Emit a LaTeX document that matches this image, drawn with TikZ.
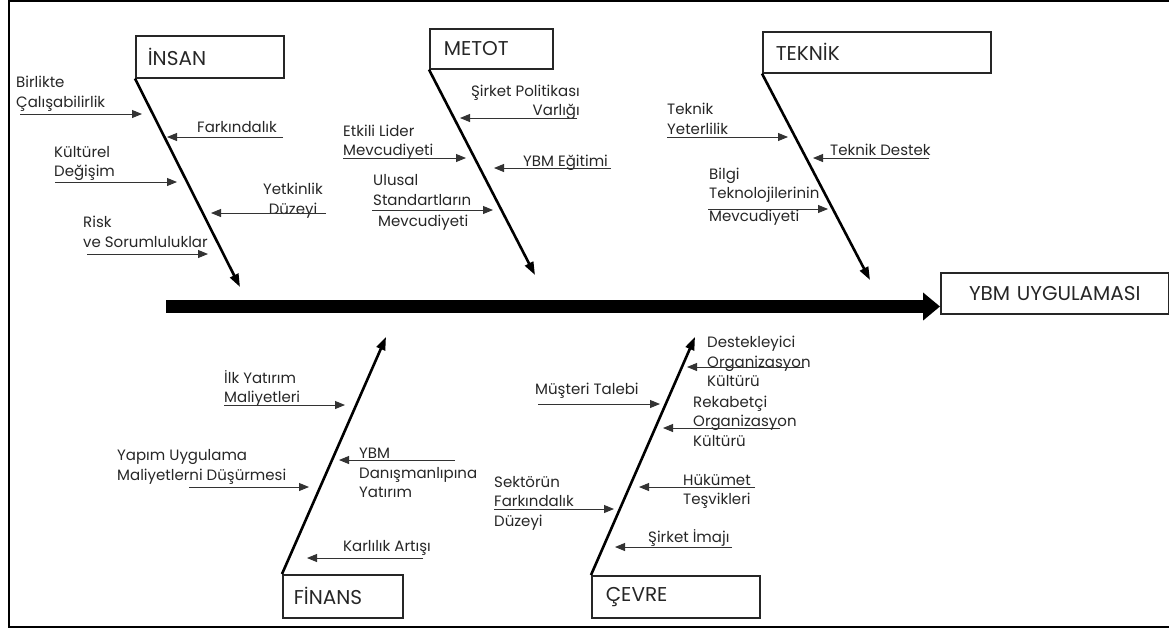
\documentclass[tikz,border=0pt]{standalone}
\usepackage{fontspec}
\setmainfont{Poppins}
\usetikzlibrary{arrows.meta}
\newcommand\causearrow[3]{%
  \coordinate (#1s) at #2;
  \coordinate (#1e) at #3;
  \draw[cause] (#1s) -- (#1e);}
\begin{document}
\begin{tikzpicture}[x=1pt,y=-1pt,
  lbl/.style={inner sep=0pt, font=\fontsize{15}{19.5}\selectfont, text=black!85, align=left},
  catbox/.style={draw=black!85, line width=1.6pt, anchor=north west, inner xsep=12pt, inner ysep=0pt,
     font=\fontsize{20}{22}\selectfont, text=black!85, align=left},
  spine/.style={line width=2.6pt, -{Triangle[width=9pt,length=13pt]}},
  cause/.style={draw=black!80, line width=0.9pt, -{Triangle[width=8pt,length=10pt]}},
  mainbar/.style={line width=13pt, -{Triangle[width=27pt,length=17pt]}}]
\useasboundingbox (0,0) rectangle (1169,630);
% frame
\draw[line width=2.2pt] (1169,1) -- (9,1) -- (9,627) -- (1169,627);
% category boxes
\node[catbox, text width=124pt, minimum height=42pt] (insan) at (135,35) {İNSAN};
\node[catbox, inner xsep=14pt, text width=95pt, minimum height=40pt] (metot) at (429,28) {METOT};
\node[catbox, inner xsep=13pt, text width=202pt, minimum height=41pt] (teknik) at (762,31) {TEKNİK};
\node[catbox, align=center, text width=204pt, minimum height=41pt] (ybm) at (940,272) {YBM UYGULAMASI};
\node[catbox, inner xsep=11pt, text width=98pt, minimum height=43pt] (finans) at (282,574) {FİNANS};
\node[catbox, inner xsep=14pt, text width=140pt, minimum height=42pt] (cevre) at (591,575) {ÇEVRE};
% main spine
\coordinate (tail) at (166,306.5);
\draw[mainbar] (tail) -- (tail -| ybm.west);
% category spines
\coordinate (insanTip) at (240,287);
\coordinate (metotTip) at (535,275);
\coordinate (teknikTip) at (870,280);
\coordinate (finansTip) at (386,337);
\coordinate (cevreTip) at (695,337);
\draw[spine] (insan.south west) -- (insanTip);
\draw[spine] (metot.south west) -- (metotTip);
\draw[spine] (teknik.south west) -- (teknikTip);
\draw[spine] (finans.north west) -- (finansTip);
\draw[spine] (cevre.north west) -- (cevreTip);
% INSAN labels
\node[lbl, anchor=west] (l1) at (16,93.5) {Birlikte\\Çalışabilirlik};
\node[lbl, anchor=west] (l2) at (197,127) {Farkındalık};
\node[lbl, anchor=west] (l3) at (54,163.5) {Kültürel\\Değişim};
\node[lbl, anchor=center, align=center] (l4) at (293,200.5) {Yetkinlik\\Düzeyi};
\node[lbl, anchor=west] (l5) at (83,232) {Risk\\ve Sorumluluklar};
\causearrow{a1}{(20,114)}{(142,114)}
\causearrow{a2}{(283,137)}{(167,137)}
\causearrow{a3}{(55,182)}{(177,182)}
\causearrow{a4}{(326,213)}{(211,213)}
\causearrow{a5}{(87,254)}{(208,254)}
% METOT labels
\node[lbl, anchor=east, align=right] (l6) at (580,102.5) {Şirket Politikası\\Varlığı};
\node[lbl, anchor=west] (l7) at (343,142) {Etkili Lider\\Mevcudiyeti};
\node[lbl, anchor=west] (l8) at (523,163) {YBM Eğitimi};
\node[lbl, anchor=west] (l9) at (373,202.5) {Ulusal\\Standartların\\[2pt]\hspace*{5pt}Mevcudiyeti};
\causearrow{a6}{(577,118)}{(460,118)}
\causearrow{a7}{(343,158)}{(466,158)}
\causearrow{a8}{(611,168)}{(494,168)}
\causearrow{a9}{(372,210)}{(493,210)}
% TEKNIK labels
\node[lbl, anchor=west] (l10) at (667,119) {Teknik\\Yeterlilik};
\node[lbl, anchor=west] (l11) at (830,150) {Teknik Destek};
\node[lbl, anchor=west] (l12) at (709,196.5) {Bilgi\\Teknolojilerinin\\[3.5pt]Mevcudiyeti};
\causearrow{a10}{(667,137)}{(788,137)}
\causearrow{a11}{(929,158)}{(813,158)}
\causearrow{a12}{(708,209)}{(828,209)}
% FINANS labels
\node[lbl, anchor=west] (l13) at (224,388.5) {İlk Yatırım\\Maliyetleri};
\node[lbl, anchor=west] (l14) at (117,467) {Yapım Uygulama\\Maliyetlerni Düşürmesi};
\node[lbl, anchor=west] (l15) at (359,473) {YBM\\Danışmanlıpına\\Yatırım};
\node[lbl, anchor=west] (l16) at (343,548) {Karlılık Artışı};
\causearrow{a13}{(224,405)}{(345,405)}
\causearrow{a14}{(189,487)}{(309,487)}
\causearrow{a15}{(455,460)}{(339,460)}
\causearrow{a16}{(423,558)}{(307,558)}
% CEVRE labels
\node[lbl, anchor=west] (l17) at (707,361.5) {Destekleyici\\Organizasyon\\Kültürü};
\node[lbl, anchor=west] (l18) at (535,391) {Müşteri Talebi};
\node[lbl, anchor=west] (l19) at (693,421) {Rekabetçi\\Organizasyon\\Kültürü};
\node[lbl, anchor=west] (l20) at (683,491.5) {Hükümet\\Teşvikleri};
\node[lbl, anchor=west] (l21) at (494,503) {Sektörün\\Farkındalık\\Düzeyi};
\node[lbl, anchor=west] (l22) at (648,538) {Şirket İmajı};
\causearrow{a17}{(804,367)}{(687,367)}
\causearrow{a18}{(538,404)}{(660,404)}
\causearrow{a19}{(780,428)}{(663,428)}
\causearrow{a20}{(755,487)}{(639,487)}
\causearrow{a21}{(494,509)}{(614,509)}
\causearrow{a22}{(732,547)}{(615,547)}
\end{tikzpicture}
\end{document}
